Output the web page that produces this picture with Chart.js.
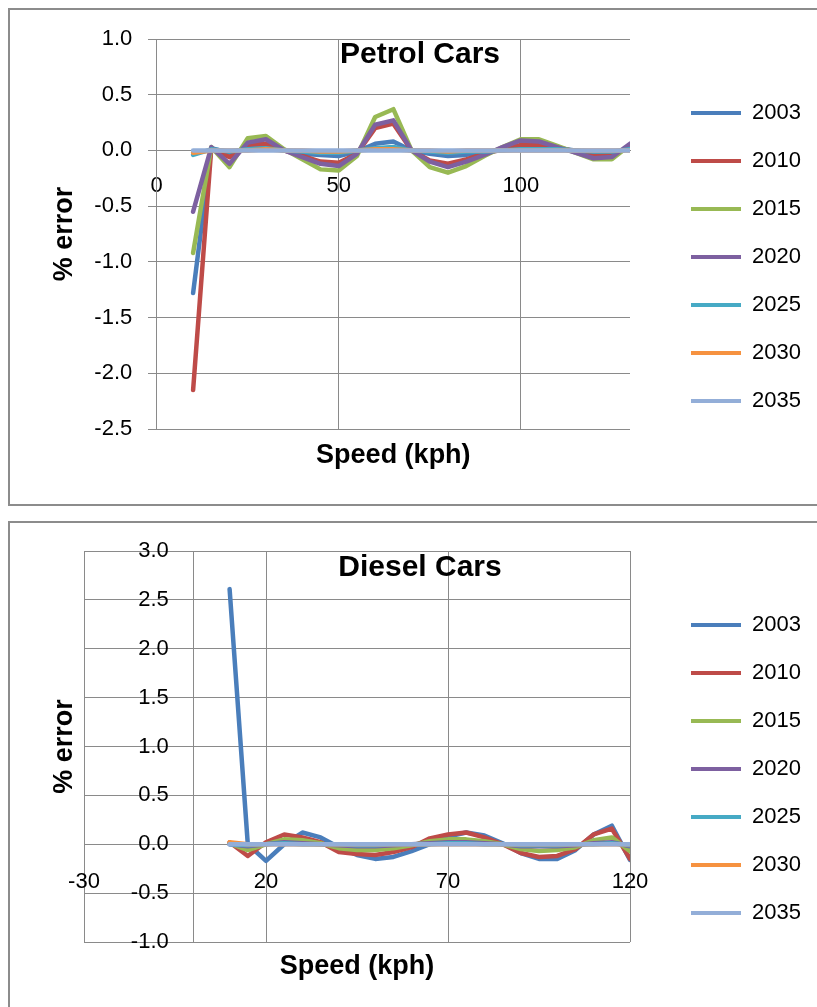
<!DOCTYPE html>
<html>
<head>
<meta charset="utf-8">
<title>% error by speed - petrol and diesel cars</title>
<script src="https://cdn.jsdelivr.net/npm/chart.js@4.4.1/dist/chart.umd.min.js"></script>
<style>
  html, body { margin: 0; padding: 0; background: #fff; overflow: hidden; }
  .box { position: absolute; left: 8px; width: 900px; border: 2px solid #8c8c8c; box-sizing: border-box; }
  #boxPetrol { top: 8px; height: 498px; }
  #boxDiesel { top: 521px; height: 600px; }
  canvas { position: absolute; left: 9px; }
  #petrol { top: 0; }
  #diesel { top: 515px; }
</style>
</head>
<body>
<div class="box" id="boxPetrol"></div>
<div class="box" id="boxDiesel"></div>
<canvas id="petrol" width="822" height="505"></canvas>
<canvas id="diesel" width="822" height="492"></canvas>
<script>
const years = ["2003", "2010", "2015", "2020", "2025", "2030", "2035"];
const colors = ["#4A7EBB", "#BE4B48", "#98B954", "#7D60A0", "#46AAC5", "#F69240", "#93AED8"];

// petrol cars, speed 10..130 kph
const petrolSpeeds = [10, 15, 20, 25, 30, 35, 40, 45, 50, 55, 60, 65, 70, 75, 80, 85, 90, 95, 100, 105, 110, 115, 120, 125, 130];
const petrol2003 = [-1.28, 0.02, -0.02, 0.02, 0.03, 0.0, -0.03, -0.04, -0.05, -0.01, 0.06, 0.08, 0.0, -0.03, -0.05, -0.04, -0.02, 0.01, 0.03, 0.03, 0.02, 0.0, -0.02, -0.03, 0.02];
const petrol2010 = [-2.15, 0.02, -0.06, 0.05, 0.06, 0.0, -0.05, -0.1, -0.11, -0.03, 0.2, 0.24, 0.0, -0.09, -0.12, -0.08, -0.03, 0.01, 0.05, 0.05, 0.03, -0.01, -0.05, -0.04, 0.03];
const petrol2015 = [-0.92, 0.03, -0.15, 0.11, 0.13, 0.01, -0.08, -0.17, -0.18, -0.05, 0.3, 0.37, 0.0, -0.15, -0.2, -0.14, -0.05, 0.03, 0.1, 0.1, 0.04, -0.02, -0.08, -0.08, 0.05];
const petrol2020 = [-0.55, 0.03, -0.12, 0.07, 0.1, 0.0, -0.06, -0.12, -0.14, -0.03, 0.23, 0.27, 0.0, -0.1, -0.15, -0.1, -0.04, 0.03, 0.09, 0.08, 0.03, -0.02, -0.07, -0.06, 0.06];
const petrol2025 = [-0.04, 0.01, -0.01, 0.01, 0.02, 0.0, -0.01, -0.02, -0.02, 0.0, 0.02, 0.03, 0.0, -0.01, -0.02, -0.01, -0.01, 0.0, 0.01, 0.01, 0.01, 0.0, -0.01, -0.01, 0.01];
const petrol2030 = [-0.02, 0.0, 0.0, 0.0, 0.01, 0.0, 0.0, -0.01, -0.01, 0.0, 0.01, 0.01, 0.0, 0.0, -0.01, 0.0, 0.0, 0.0, 0.0, 0.0, 0.0, 0.0, 0.0, 0.0, 0.0];
const petrol2035 = [0, 0, 0, 0, 0, 0, 0, 0, 0, 0, 0, 0, 0, 0, 0, 0, 0, 0, 0, 0, 0, 0, 0, 0, 0];
const petrolXTicks = [0, 50, 100];

// diesel cars, speed 10..120 kph
const dieselSpeeds = [10, 15, 20, 25, 30, 35, 40, 45, 50, 55, 60, 65, 70, 75, 80, 85, 90, 95, 100, 105, 110, 115, 120];
const diesel2003 = [2.61, 0.0, -0.17, 0.0, 0.12, 0.07, -0.03, -0.11, -0.15, -0.13, -0.07, 0.0, 0.08, 0.12, 0.09, 0.01, -0.09, -0.15, -0.15, -0.06, 0.1, 0.19, -0.16];
const diesel2010 = [0.02, -0.12, 0.02, 0.1, 0.07, 0.02, -0.08, -0.1, -0.11, -0.08, -0.03, 0.06, 0.1, 0.12, 0.07, 0.0, -0.09, -0.13, -0.12, -0.05, 0.1, 0.16, -0.15];
const diesel2015 = [0.01, -0.06, 0.0, 0.05, 0.04, 0.01, -0.04, -0.06, -0.06, -0.04, -0.01, 0.03, 0.05, 0.05, 0.03, 0.0, -0.05, -0.07, -0.06, -0.03, 0.04, 0.07, -0.07];
const diesel2020 = [0.0, -0.02, 0.0, 0.02, 0.01, 0.0, -0.01, -0.02, -0.02, -0.01, 0.0, 0.01, 0.02, 0.02, 0.01, 0.0, -0.02, -0.02, -0.02, -0.01, 0.01, 0.02, -0.02];
const diesel2025 = [0.0, -0.01, 0.0, 0.01, 0.0, 0.0, 0.0, -0.01, -0.01, 0.0, 0.0, 0.0, 0.01, 0.01, 0.0, 0.0, -0.01, -0.01, -0.01, 0.0, 0.0, 0.01, -0.01];
const diesel2030 = [0.02, 0.0, 0.0, 0.0, 0.0, 0.0, 0.0, 0.0, 0.0, 0.0, 0.0, 0.0, 0.0, 0.0, 0.0, 0.0, 0.0, 0.0, 0.0, 0.0, 0.0, 0.0, 0.0];
const diesel2035 = [0, 0, 0, 0, 0, 0, 0, 0, 0, 0, 0, 0, 0, 0, 0, 0, 0, 0, 0, 0, 0, 0, 0];
const dieselXTicks = [-30, 20, 70, 120];

Chart.defaults.font.family = "'Liberation Sans', Arial, sans-serif";
Chart.defaults.color = "#000";

const gridColor = "#8a8a8a";
const LEGEND_WIDTH = 150;

// the legend box is capped to a share of the canvas width; give it a fixed width instead
const fixedLegendWidth = {
  id: 'fixedLegendWidth',
  beforeInit(chart) {
    const fit = chart.legend.fit;
    chart.legend.fit = function () {
      fit.call(this);
      this.width = LEGEND_WIDTH;
    };
  }
};

function buildDatasets(speeds, series) {
  return series.map((vals, i) => ({
    label: years[i],
    data: vals.map((v, j) => ({ x: speeds[j], y: v })),
    borderColor: colors[i],
    backgroundColor: colors[i],
    borderWidth: 4.5,
    borderCapStyle: 'round',
    borderJoinStyle: 'round',
    pointRadius: 0,
    tension: 0,
    order: series.length - i,   // later years drawn on top, like Excel
    xAxisID: 'x',
    yAxisID: 'y'
  }));
}

function makeChart(id, o) {
  return new Chart(id, {
    type: 'line',
    data: { datasets: buildDatasets(o.speeds, o.series) },
    plugins: [fixedLegendWidth],
    options: {
      responsive: false,
      animation: false,
      layout: { padding: o.pad },
      plugins: {
        title: {
          display: true,
          text: o.title,
          font: { size: 30, weight: 'bold' },
          padding: o.titlePad
        },
        legend: {
          position: 'right',
          labels: {
            boxWidth: 50,
            boxHeight: 4,
            padding: 26,
            font: { size: 22 },
            sort: (a, b) => a.datasetIndex - b.datasetIndex,
            generateLabels: chart =>
              Chart.defaults.plugins.legend.labels.generateLabels(chart).map(it => ({ ...it, lineWidth: 0 }))
          }
        },
        tooltip: { enabled: false }
      },
      scales: {
        x: {
          type: 'linear',
          position: { y: 0 },
          min: o.xMin,
          max: o.xMax,
          afterBuildTicks: s => { s.ticks = o.xTicks.map(v => ({ value: v })); },
          grid: { color: gridColor, drawTicks: false },
          border: { display: true, color: gridColor },
          ticks: { autoSkip: false, maxRotation: 0, padding: o.xLabelPad, font: { size: 22 }, callback: v => String(v) }
        },
        y: {
          type: 'linear',
          position: { x: 0 },
          min: o.yMin,
          max: o.yMax,
          grid: { color: gridColor, drawTicks: true, tickLength: 8 },
          border: { display: true, color: gridColor },
          ticks: {
            stepSize: 0.5,
            autoSkip: false,
            font: { size: 22 },
            callback: v => (Math.round(v * 10) / 10).toFixed(1) + '    '
          }
        },
        yTitle: {
          position: 'left',
          display: true,
          grid: { display: false, drawTicks: false },
          border: { display: false },
          ticks: { display: false },
          title: { display: true, text: '% error', font: { size: 27, weight: 'bold' }, padding: { top: 23.8, bottom: 0 } },
          afterFit: s => { s.width = o.yTitleWidth; }
        },
        xTitle: {
          position: 'bottom',
          display: true,
          grid: { display: false, drawTicks: false },
          border: { display: false },
          ticks: { display: false },
          title: { display: true, text: 'Speed (kph)', font: { size: 27, weight: 'bold' }, padding: o.xTitlePad }
        },
        ySpace: {
          position: 'right',
          display: true,
          grid: { display: false, drawTicks: false },
          border: { display: false },
          ticks: { display: false },
          afterFit: s => { s.width = 35; }
        }
      }
    }
  });
}

makeChart('petrol', {
  title: 'Petrol Cars',
  speeds: petrolSpeeds,
  series: [petrol2003, petrol2010, petrol2015, petrol2020, petrol2025, petrol2030, petrol2035],
  xMin: 0, xMax: 130, xTicks: petrolXTicks,
  yMin: -2.5, yMax: 1.0,
  pad: { left: 16, right: 16, top: 39, bottom: 30 },
  titlePad: { top: -2, bottom: -34 },
  yTitleWidth: 131.7,
  xTitlePad: { top: 10.8, bottom: 2.8 },
  xLabelPad: 22
});

makeChart('diesel', {
  title: 'Diesel Cars',
  speeds: dieselSpeeds,
  series: [diesel2003, diesel2010, diesel2015, diesel2020, diesel2025, diesel2030, diesel2035],
  xMin: -30, xMax: 120, xTicks: dieselXTicks,
  yMin: -1.0, yMax: 3.0,
  pad: { left: 16, right: 16, top: 36, bottom: 20 },
  titlePad: { top: -1, bottom: -35 },
  yTitleWidth: 59,
  xTitlePad: { top: 8.8, bottom: 3.8 },
  xLabelPad: 24
});
</script>
</body>
</html>
